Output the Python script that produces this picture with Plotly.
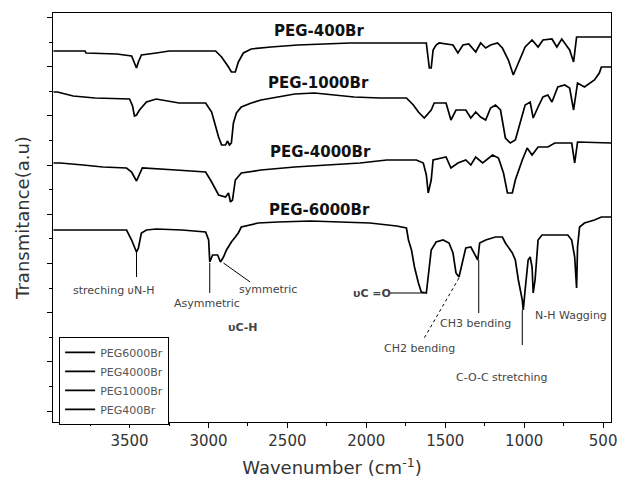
import plotly.graph_objects as go

# ---- data (wavenumber cm^-1, transmittance a.u.) ----
wn_400 = [3982, 3782, 3776, 3581, 3487, 3469, 3456, 3444, 3425, 3331, 3249, 2955, 2917, 2873, 2855, 2830,
          2811, 2779, 2729, 2604, 2435, 2103, 1620, 1601, 1589, 1577, 1558, 1539, 1451, 1420, 1388, 1351,
          1307, 1276, 1244, 1213, 1169, 1138, 1100, 1069, 1037, 994, 950, 912, 881, 824, 793, 762, 712,
          687, 668, 448]
t_400 = [371, 371, 369, 368, 366, 360, 354, 360, 367, 369, 371, 371, 365, 355, 350, 350, 360, 369, 373,
         375, 377, 379, 379, 354, 354, 372, 377, 379, 377, 369, 377, 378, 370, 379, 374, 377, 379, 374,
         362, 347, 359, 375, 382, 375, 382, 383, 375, 383, 372, 360, 385, 385]

wn_1000 = [3982, 3957, 3857, 3719, 3500, 3481, 3469, 3456, 3437, 3393, 3331, 3187, 3018, 2980, 2936, 2917,
           2892, 2880, 2867, 2855, 2842, 2823, 2792, 2729, 2667, 2560, 2454, 2328, 2184, 2078, 1915, 1746,
           1702, 1670, 1633, 1589, 1570, 1495, 1464, 1432, 1370, 1338, 1307, 1276, 1244, 1213, 1182, 1150,
           1119, 1088, 1056, 1025, 994, 962, 943, 912, 881, 850, 824, 787, 743, 712, 687, 662, 618, 555,
           524, 511, 448]
t_1000 = [330, 330, 326, 324, 323, 316, 306, 307, 312, 320, 323, 319, 319, 310, 285, 277, 277, 281, 277,
          279, 299, 309, 315, 319, 322, 325, 328, 329, 327, 325, 324, 324, 317, 310, 304, 312, 319, 319,
          302, 312, 312, 304, 310, 305, 302, 314, 317, 312, 284, 279, 282, 299, 317, 320, 304, 315, 325,
          327, 320, 335, 337, 334, 312, 339, 335, 342, 349, 355, 355]

wn_4000 = [3982, 3939, 3794, 3669, 3519, 3487, 3456, 3437, 3419, 3206, 3018, 2980, 2936, 2892, 2873, 2861,
           2848, 2830, 2792, 2667, 2454, 2247, 2040, 1871, 1683, 1639, 1620, 1608, 1589, 1577, 1495, 1464,
           1420, 1370, 1338, 1307, 1263, 1200, 1163, 1131, 1106, 1075, 1056, 1012, 981, 950, 912, 850, 806,
           699, 680, 662, 448]
t_4000 = [259, 259, 257, 255, 254, 250, 241, 248, 254, 252, 250, 240, 227, 225, 229, 220, 222, 242, 249,
          252, 255, 257, 259, 262, 262, 259, 247, 229, 242, 262, 265, 254, 259, 262, 257, 265, 259, 267,
          264, 249, 229, 229, 242, 262, 274, 267, 275, 275, 279, 279, 259, 280, 279]

wn_6000 = [3982, 3519, 3487, 3469, 3456, 3444, 3425, 3393, 3331, 3168, 3018, 2999, 2992, 2974, 2942, 2924,
           2905, 2886, 2855, 2830, 2811, 2792, 2729, 2685, 2560, 2353, 2165, 1977, 1808, 1746, 1733, 1714,
           1695, 1683, 1670, 1652, 1620, 1601, 1589, 1558, 1514, 1476, 1451, 1432, 1413, 1388, 1370, 1338,
           1319, 1294, 1282, 1244, 1182, 1138, 1119, 1075, 1056, 1037, 1012, 1006, 994, 981, 975, 962, 950,
           943, 931, 912, 887, 724, 699, 680, 668, 662, 649, 618, 555, 511, 448]
t_6000 = [192, 192, 182, 174, 170, 174, 189, 192, 193, 192, 190, 182, 160, 167, 167, 160, 165, 172, 180,
          185, 189, 195, 197, 199, 200, 201, 200, 199, 196, 194, 182, 172, 155, 147, 139, 130, 129, 155,
          172, 180, 182, 179, 169, 149, 145, 162, 174, 175, 170, 162, 179, 182, 185, 185, 179, 169, 162,
          142, 122, 112, 132, 149, 162, 165, 155, 129, 142, 182, 187, 187, 182, 165, 134, 175, 195, 199,
          202, 205, 205]

legend_names = ["PEG6000Br", "PEG4000Br", "PEG1000Br", "PEG400Br"]
curve_labels = ["PEG-6000Br", "PEG-4000Br", "PEG-1000Br", "PEG-400Br"]
label_pos = [(2297, 212), (2291, 270), (2303, 339), (2297, 391)]

FONT = "DejaVu Sans"

fig = go.Figure()
series = [(wn_6000, t_6000), (wn_4000, t_4000), (wn_1000, t_1000), (wn_400, t_400)]
for (xs, ys), name in zip(series, legend_names):
    fig.add_trace(go.Scatter(x=xs, y=ys, mode="lines", name=name,
                             line=dict(color="black", width=1.7)))

annotations = []
for txt, (lx, ly) in zip(curve_labels, label_pos):
    annotations.append(dict(x=lx, y=ly, xref="x", yref="y", text="<b>%s</b>" % txt, showarrow=False,
                            font=dict(family=FONT, size=15, color="#111")))

small = [
    ("streching υN-H", 3600, 132),
    ("Asymmetric", 3011, 119),
    ("symmetric", 2623, 133),
    ("<b>υC-H</b>", 2779, 95),
    ("<b>υC =O</b>", 1965, 129),
    ("CH2 bending", 1664, 74),
    ("CH3 bending", 1307, 99),
    ("N-H Wagging", 705, 107),
    ("C-O-C stretching", 1138, 45),
]
for txt, ax, ay in small:
    annotations.append(dict(x=ax, y=ay, xref="x", yref="y", text=txt, showarrow=False,
                            font=dict(family=FONT, size=11, color="#444")))

line_style = dict(color="black", width=1)
shapes = [
    dict(type="line", x0=3456, y0=170, x1=3456, y1=145, xref="x", yref="y", line=line_style),
    dict(type="line", x0=2992, y0=159, x1=2992, y1=129, xref="x", yref="y", line=line_style),
    dict(type="line", x0=2905, y0=159, x1=2736, y1=140, xref="x", yref="y", line=line_style),
    dict(type="line", x0=1852, y0=129, x1=1633, y1=129, xref="x", yref="y", line=line_style),
    dict(type="line", x0=1413, y0=144, x1=1633, y1=84, xref="x", yref="y",
         line=dict(color="black", width=1, dash="dot")),
    dict(type="line", x0=1288, y0=162, x1=1288, y1=109, xref="x", yref="y", line=line_style),
    dict(type="line", x0=1012, y0=112, x1=1012, y1=77, xref="x", yref="y", line=line_style),
]

fig.update_layout(
    width=625, height=486,
    margin=dict(l=53, r=8, t=13, b=64),
    paper_bgcolor="white", plot_bgcolor="white",
    font=dict(family=FONT, color="#333"),
    showlegend=True,
    legend=dict(x=0.011, y=0.208, xanchor="left", yanchor="top",
                bordercolor="black", borderwidth=1, bgcolor="white",
                font=dict(family=FONT, size=11, color="#555"),
                tracegroupgap=0, itemwidth=30),
    annotations=annotations,
    shapes=shapes,
)

fig.update_xaxes(
    range=[3985, 450], showgrid=False, zeroline=False,
    showline=True, linecolor="black", linewidth=1.2, mirror=True,
    ticks="outside", ticklen=5, tickcolor="black", tick0=500, dtick=500,
    minor=dict(ticks="outside", ticklen=3, tick0=750, dtick=500, tickcolor="black"),
    tickfont=dict(family=FONT, size=15, color="#333"),
    title=dict(text="Wavenumber (cm<sup>-1</sup>)", font=dict(family=FONT, size=18, color="#333"),
               standoff=12),
)
fig.update_yaxes(
    range=[0, 409], showgrid=False, zeroline=False,
    showline=True, linecolor="black", linewidth=1.2, mirror=True,
    ticks="outside", ticklen=5, tickcolor="black", tick0=11, dtick=49.2,
    minor=dict(ticks="outside", ticklen=3, tick0=35.6, dtick=49.2, tickcolor="black"),
    showticklabels=False,
    title=dict(text="Transmitance(a.u)", font=dict(family=FONT, size=18, color="#333"), standoff=12),
)

fig.write_html("out.html")
